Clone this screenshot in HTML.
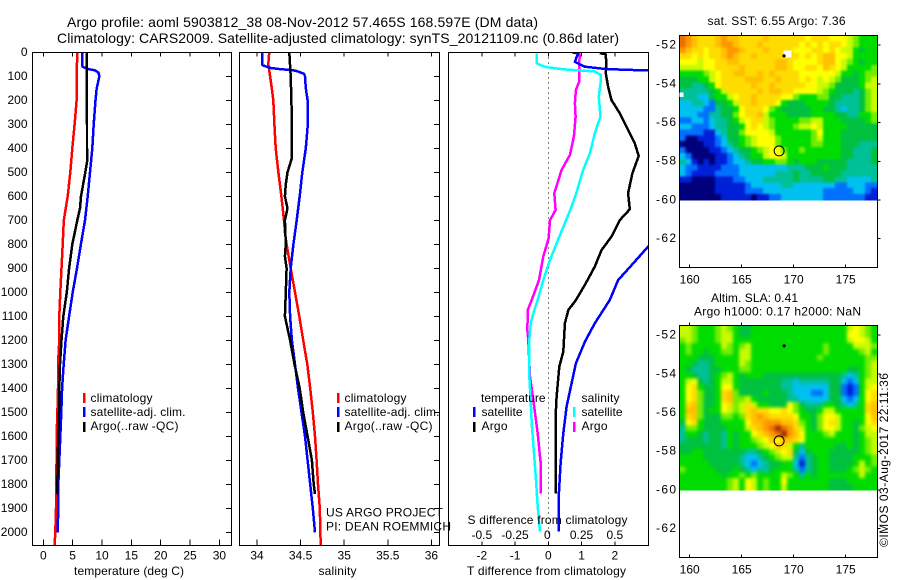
<!DOCTYPE html>
<html>
<head>
<meta charset="utf-8">
<title>Argo profile</title>
<style>
html,body{margin:0;padding:0;background:#fff;}
svg{display:block;}
text{font-family:"Liberation Sans",sans-serif;font-size:12px;fill:#000;}
.title{font-size:14px;}
</style>
</head>
<body>
<svg xmlns="http://www.w3.org/2000/svg" width="900" height="580" viewBox="0 0 900 580">
<defs>
<clipPath id="clip-temp"><rect x="32.5" y="52" width="198.5" height="493"/></clipPath>
<clipPath id="clip-sal"><rect x="239.5" y="52" width="200" height="493"/></clipPath>
<clipPath id="clip-diff"><rect x="448.5" y="52" width="200" height="493"/></clipPath>
<clipPath id="clip-sst"><rect x="679.5" y="35.5" width="198" height="165"/></clipPath>
<clipPath id="clip-sla"><rect x="679.5" y="325.5" width="198" height="165"/></clipPath>
<filter id="smooth-sst" filterUnits="userSpaceOnUse" x="660" y="20" width="240" height="200" color-interpolation-filters="sRGB">
<feGaussianBlur stdDeviation="1.1"/>
<feComponentTransfer><feFuncA type="linear" slope="1000"/></feComponentTransfer>
</filter>
<filter id="smooth-sla" filterUnits="userSpaceOnUse" x="660" y="310" width="240" height="200" color-interpolation-filters="sRGB">
<feGaussianBlur stdDeviation="1.7"/>
<feComponentTransfer><feFuncA type="linear" slope="1000"/></feComponentTransfer>
</filter>
</defs>
<g id="maps"></g>
<g id="panels"></g>
<g id="labels"></g>

<text class="title" x="67" y="27" textLength="471" lengthAdjust="spacing">Argo profile: aoml 5903812_38 08-Nov-2012 57.465S 168.597E (DM data)</text>
<text class="title" x="57" y="43" textLength="562" lengthAdjust="spacing">Climatology: CARS2009. Satellite-adjusted climatology: synTS_20121109.nc (0.86d later)</text>

<text x="74" y="575" textLength="110" lengthAdjust="spacing">temperature (deg C)</text>
<text x="318.5" y="575" textLength="38" lengthAdjust="spacing">salinity</text>
<text x="467" y="575" textLength="159" lengthAdjust="spacing">T difference from climatology</text>
<text x="467.5" y="524" textLength="160" lengthAdjust="spacing">S difference from climatology</text>

<rect x="83" y="393" width="2.5" height="10" fill="#ff0000"/>
<rect x="83" y="407" width="2.5" height="10" fill="#0000ff"/>
<rect x="83" y="422" width="2.5" height="10" fill="#000000"/>
<text x="90.5" y="402" textLength="62" lengthAdjust="spacing">climatology</text>
<text x="90.5" y="416" textLength="95" lengthAdjust="spacing">satellite-adj. clim.</text>
<text x="90.5" y="430" textLength="88" lengthAdjust="spacing">Argo(..raw -QC)</text>

<rect x="337" y="393" width="2.5" height="10" fill="#ff0000"/>
<rect x="337" y="407" width="2.5" height="10" fill="#0000ff"/>
<rect x="337" y="422" width="2.5" height="10" fill="#000000"/>
<text x="344.5" y="402" textLength="62" lengthAdjust="spacing">climatology</text>
<text x="344.5" y="416" textLength="95" lengthAdjust="spacing">satellite-adj. clim.</text>
<text x="344.5" y="430" textLength="88" lengthAdjust="spacing">Argo(..raw -QC)</text>

<text x="326" y="516.5" textLength="117" lengthAdjust="spacing">US ARGO PROJECT</text>
<text x="326" y="530.5" textLength="125" lengthAdjust="spacing">PI: DEAN ROEMMICH</text>

<text x="481" y="402" textLength="64.5" lengthAdjust="spacing">temperature</text>
<rect x="473" y="407" width="2.5" height="10" fill="#0000ff"/>
<rect x="473" y="422" width="2.5" height="10" fill="#000000"/>
<text x="481.5" y="416" textLength="41" lengthAdjust="spacing">satellite</text>
<text x="481.5" y="430" textLength="26" lengthAdjust="spacing">Argo</text>
<text x="581.5" y="402" textLength="38" lengthAdjust="spacing">salinity</text>
<rect x="573" y="407" width="2.5" height="10" fill="#00ffff"/>
<rect x="573" y="422" width="2.5" height="10" fill="#ff00ff"/>
<text x="581.5" y="416" textLength="41" lengthAdjust="spacing">satellite</text>
<text x="581.5" y="430" textLength="26" lengthAdjust="spacing">Argo</text>

<text x="707.5" y="25" textLength="138" lengthAdjust="spacing">sat. SST: 6.55 Argo: 7.36</text>
<text x="711" y="302" textLength="87" lengthAdjust="spacing">Altim. SLA: 0.41</text>
<text x="694" y="315.5" textLength="167" lengthAdjust="spacing">Argo h1000: 0.17 h2000: NaN</text>
<text transform="translate(888,547) rotate(-90)" x="0" y="0" textLength="174" lengthAdjust="spacing">©IMOS 03-Aug-2017 22:11:36</text>

<script>
// ---- axis ticks ----
const depthTicks = [0,100,200,300,400,500,600,700,800,900,1000,1100,1200,1300,1400,1500,1600,1700,1800,1900,2000];
const tempTicks = [0,5,10,15,20,25,30];
const salTicks = [34,34.5,35,35.5,36];
const diffTTicks = [-2,-1,0,1,2];
const diffSTicks = [-0.5,-0.25,0,0.25,0.5];
const lonTicks = [160,165,170,175];
const latTicks = [-52,-54,-56,-58,-60,-62];

// ---- temperature panel ----
const tempClimDepth = [0,100,200,300,400,500,600,700,800,900,1000,1100,1200,1300,1400,1500,1600,1700,1800,1900,2000,2054];
const tempClimValue = [5.8,5.68,5.68,5.34,4.94,4.6,4.15,3.5,3.3,3.1,2.9,2.73,2.73,2.5,2.5,2.4,2.27,2.27,2.16,2.16,2.05,1.93];
const tempSatDepth = [0,50,60,70,75,85,100,150,200,300,400,500,600,700,800,900,1000,1100,1200,1300,1400,1500,1600,1700,1800,1900,2000];
const tempSatValue = [6.6,6.6,6.7,7.67,8.8,9.4,9.55,9.1,8.9,8.58,8.35,7.95,7.56,7.1,6.4,5.74,5.0,4.4,3.8,3.47,3.2,3.07,2.9,2.73,2.56,2.56,2.44];
const tempArgoDepth = [0,100,200,300,400,450,500,600,650,700,800,900,1000,1100,1200,1300,1400,1500,1600,1700,1840];
const tempArgoValue = [7.4,7.4,7.4,7.45,7.45,7.5,7.16,6.42,6.25,5.8,4.94,4.4,4.0,3.4,3.1,2.84,2.73,2.67,2.56,2.44,2.4];

// ---- salinity panel ----
const salClimDepth = [0,50,100,150,200,300,400,500,600,700,750,800,900,1000,1100,1200,1300,1400,1500,1600,1700,1800,1900,2054];
const salClimValue = [34.14,34.13,34.15,34.17,34.187,34.2,34.214,34.245,34.28,34.31,34.32,34.34,34.386,34.436,34.485,34.53,34.577,34.61,34.64,34.665,34.684,34.7,34.72,34.73];
const salSatDepth = [0,50,55,65,70,75,80,90,100,150,200,250,300,400,500,600,700,800,900,1000,1100,1200,1300,1400,1500,1600,1700,1800,1900,2000];
const salSatValue = [34.057,34.057,34.07,34.15,34.26,34.42,34.47,34.54,34.55,34.56,34.58,34.585,34.583,34.56,34.52,34.49,34.455,34.417,34.386,34.37,34.38,34.4,34.436,34.47,34.51,34.55,34.58,34.61,34.64,34.665];
const salArgoDepth = [0,100,200,300,400,440,500,550,600,650,700,800,850,900,1000,1100,1200,1300,1400,1500,1600,1700,1800,1840];
const salArgoValue = [34.37,34.386,34.394,34.4,34.4,34.4,34.35,34.33,34.32,34.35,34.32,34.33,34.32,34.34,34.33,34.32,34.38,34.43,34.49,34.53,34.58,34.63,34.65,34.665];

// ---- difference panel ----
const diffTSatDepth = [0,5,20,40,50,60,70,76,100,400,800,810,880,949,1032,1129,1206,1296,1379,1476,1588,1712,1838,1997];
const diffTSatValue = [0.72,0.9,0.85,0.8,0.95,1.1,1.75,3.0,3.87,3.4,3.1,3.0,2.55,2.1,1.85,1.4,1.1,0.83,0.7,0.55,0.45,0.37,0.32,0.31];
const diffTArgoDepth = [4,7,46,88,143,199,254,324,379,432,504,587,654,699,768,824,893,969,1032,1074,1129,1247,1310,1435,1518,1838];
const diffTArgoValue = [1.55,1.72,1.75,1.73,1.8,1.9,2.15,2.4,2.6,2.72,2.53,2.4,2.45,2.15,1.9,1.6,1.4,1.1,0.83,0.6,0.5,0.45,0.33,0.25,0.22,0.23];
const diffSSatDepth = [4,46,53,62,71,76,80,94,122,185,268,337,421,490,574,643,712,796,865,949,1032,1074,1129,1213,1351,1449,1546,1671,1782,1893,1997];
const diffSSatValue = [-0.0875,-0.0875,-0.0625,-0.0125,0.1125,0.2375,0.35,0.395,0.395,0.38,0.3925,0.35,0.3125,0.2625,0.2175,0.175,0.125,0.0625,0.0125,-0.0375,-0.08,-0.105,-0.1325,-0.145,-0.1425,-0.1325,-0.125,-0.1075,-0.0925,-0.08,-0.0625];
const diffSArgoDepth = [4,46,88,122,157,212,268,351,428,490,587,657,699,775,851,949,1032,1074,1157,1199,1351,1449,1588,1712,1838];
const diffSArgoValue = [0.2375,0.2325,0.2325,0.2325,0.2075,0.2,0.205,0.1925,0.1625,0.1,0.045,0.055,0.0125,0.0025,-0.0375,-0.07,-0.125,-0.155,-0.1575,-0.15,-0.1375,-0.1125,-0.08,-0.0575,-0.055];

// ---- map markers (degrees) ----
const profileLon = 168.597;
const profileLat = -57.465;
const nearbyLon = 169.07;
const nearbyLat = -52.55;

// ---- missing-data patches on the SST map (degrees) ----
const noDataWest = [169.0,159.0];
const noDataEast = [169.8,159.4];
const noDataNorth = [-52.28,-54.45];
const noDataSouth = [-52.64,-54.67];

// ---- map colour levels, lowest to highest ----
const levelKeys = "0123456789abcde";
const levelColors = ["#00007c","#0020d8","#0070ff","#00c0f0","#00c098","#00c040","#00dc00","#70ee00","#c8fa00","#ffff00","#ffdc00","#ffc000","#ff9800","#e87000","#a02800"];

// ---- satellite SST grid: level per cell, north to south, west to east ----
const sstGrid = [
"dcbaa abcbb aaaab aaaaa a9aaa 99987 666",
"dcbaa abccb aaaba aaaaa 9a9a9 aa987 666",
"cbaa9 aabcc baaab aaaa9 99aa9 a9886 566",
"aa9a9 aabcb aabaa aaaaa 9a9ab b9986 666",
"99989 9aabb aaaaa abba9 999ab b9876 566",
"88889 9aaaa baaaa abba9 9aa9b a9866 667",
"66667 89aab baaba baaaa 99999 98665 677",
"55566 89aaa abbba abaaa 9a989 87555 678",
"55445 69aaa aabaa baaaa a9988 75555 688",
"44444 568aa aaaba bbaa9 99987 65554 578",
"44433 56689 aabaa aa997 66677 55444 578",
"33443 25568 aabaa a9655 56666 54444 578",
"33332 24556 9aaa9 76555 55665 54344 578",
"33322 44557 9aab8 66655 55666 65544 667",
"22332 34456 89aa8 76666 77886 66555 567",
"33222 34455 69a98 76667 88986 66655 555",
"22221 13455 79999 86666 66796 66555 555",
"20011 12355 67899 97666 66786 66555 555",
"00001 12345 67899 97666 66776 66555 444",
"20000 11234 55678 99766 76666 66554 445",
"32000 01123 45668 99866 66666 66554 445",
"43101 01123 34556 67765 66655 55544 445",
"32211 11222 33333 33344 45556 55544 444",
"32111 12222 33333 34445 44555 55444 444",
"11000 01112 23334 44445 44445 54433 334",
"00000 01111 12333 33443 33333 32233 322",
"00000 01111 12223 33333 33332 22223 321",
"00000 00111 11011 22333 33332 22222 211"
];

// ---- altimeter SLA grid ----
const slaGrid = [
"88766 67876 55666 66666 66666 66689 876",
"88766 67886 55666 66666 66666 66699 876",
"78766 67886 66666 66666 66666 66689 986",
"67666 66876 78666 66666 66667 66668 887",
"67665 66776 88666 66666 66667 66666 786",
"66655 56666 88666 66666 66676 66666 677",
"66544 56666 87666 66666 66666 66666 678",
"65444 55666 77666 66666 66666 66655 678",
"66544 56786 56665 55555 55555 55434 678",
"68954 56886 55555 55443 44444 55323 688",
"69a65 56996 55555 55443 33333 55212 689",
"69a75 56ab7 55556 55543 33223 55212 69a",
"69a75 56ab7 78655 55544 33333 55323 69a",
"6ab75 569a7 8a866 55597 54446 65434 6ab",
"6bb75 66987 8abaa 99a97 65568 86666 6ab",
"6ab75 55776 7abcb aaaa9 66579 98666 69b",
"59a65 55666 69bbc ccbba 76579 a8665 69a",
"47765 55566 68abc dedca 86579 98665 789",
"46654 55465 669ab cdecb 96667 86665 688",
"45554 55465 66789 b9bba 96666 66665 678",
"55555 55465 66678 9ba86 46666 65565 678",
"55665 55555 54456 789a5 35666 55555 678",
"66665 55555 43345 67884 24566 55556 667",
"66666 55555 43234 55663 14566 55556 867",
"76666 65556 54344 56664 24566 55567 876",
"66666 66566 76766 66876 46566 66666 866",
"66666 66678 69867 66966 66666 55566 666",
"66666 66678 69867 66866 66666 55556 666"
];

// ---- axis functions ----
const NS = "http://www.w3.org/2000/svg";
const yDepth = d => 52.3 + d * 0.24;
const xTemp = v => 43.3 + v * 5.87;
const xSal = v => 257 + (v - 34) * 87.2;
const xDiffT = v => 548.3 + v * 33.25;
const xDiffS = v => 548.3 + v * 4 * 33.25;
const xLon = v => 689.7 + (v - 160) * 10.4;
const yLat = (v, top) => top + (-51.5 - v) * 19.35;

const panels = document.getElementById("panels");
const maps = document.getElementById("maps");
const labels = document.getElementById("labels");

function mk(tag, parent, attrs) {
  const el = document.createElementNS(NS, tag);
  for (const k in attrs) el.setAttribute(k, attrs[k]);
  parent.appendChild(el);
  return el;
}

function tick(parent, x1, y1, x2, y2, name) {
  const el = mk("line", parent, {x1, y1, x2, y2, stroke: "#000", "stroke-width": 1, "shape-rendering": "crispEdges"});
  
  
}

function label(x, y, str, anchor, name, fit) {
  const el = mk("text", labels, {x, y, "text-anchor": anchor});
  if (fit) {
    el.setAttribute("textLength", fit);
    el.setAttribute("lengthAdjust", "spacing");
  }
  el.textContent = str;
  
  
}

function series(depths, values, xf, color, clip, name, width) {
  const pts = depths.map((d, i) => xf(values[i]).toFixed(1) + "," + yDepth(d).toFixed(1)).join(" ");
  const el = mk("polyline", panels, {points: pts, fill: "none", stroke: color, "stroke-width": width || 2.5, "clip-path": "url(#" + clip + ")", "shape-rendering": "crispEdges", "stroke-linejoin": "round"});
  
  
}

function frame(parent, x1, y1, x2, y2, name) {
  const el = mk("rect", parent, {x: x1, y: y1, width: x2 - x1, height: y2 - y1, fill: "none", stroke: "#000", "stroke-width": 1, "shape-rendering": "crispEdges"});
  
  
}

// ---- profile panels ----
const pTop = 52.5, pBot = 545.5;

series(tempClimDepth, tempClimValue, xTemp, "#ff0000", "clip-temp", "temperature-climatology-line");
series(tempSatDepth, tempSatValue, xTemp, "#0000ff", "clip-temp", "temperature-satellite-line");
series(tempArgoDepth, tempArgoValue, xTemp, "#000000", "clip-temp", "temperature-argo-line");

series(salClimDepth, salClimValue, xSal, "#ff0000", "clip-sal", "salinity-climatology-line");
series(salSatDepth, salSatValue, xSal, "#0000ff", "clip-sal", "salinity-satellite-line");
series(salArgoDepth, salArgoValue, xSal, "#000000", "clip-sal", "salinity-argo-line");

const zeroLine = mk("line", panels, {x1: xDiffT(0), y1: pTop, x2: xDiffT(0), y2: pBot, stroke: "#000", "stroke-width": 1, "stroke-dasharray": "1 4", "shape-rendering": "crispEdges"});



series(diffSArgoDepth, diffSArgoValue, xDiffS, "#ff00ff", "clip-diff", "salinity-argo-difference-line");
series(diffTArgoDepth, diffTArgoValue, xDiffT, "#000000", "clip-diff", "temperature-argo-difference-line");
series(diffSSatDepth, diffSSatValue, xDiffS, "#00ffff", "clip-diff", "salinity-satellite-difference-line");
series(diffTSatDepth, diffTSatValue, xDiffT, "#0000ff", "clip-diff", "temperature-satellite-difference-line");

frame(panels, 32.5, pTop, 231.5, pBot, "temperature-panel-frame");
frame(panels, 239.5, pTop, 439.5, pBot, "salinity-panel-frame");
frame(panels, 448.5, pTop, 648.5, pBot, "difference-panel-frame");

depthTicks.forEach(d => {
  const y = yDepth(d);
  if (d > 0) {
    tick(panels, 226, y, 231, y, "temperature-depth-tick");
    tick(panels, 434, y, 439, y, "salinity-depth-tick");
  }
  label(27.5, y + 3.6, String(d), "end", "depth-tick-label");
});

tempTicks.forEach(v => {
  const x = xTemp(v);
  tick(panels, x, pTop, x, pTop + 4, "temperature-top-tick");
  tick(panels, x, pBot - 6, x, pBot, "temperature-bottom-tick");
  label(x, 559.5, String(v), "middle", "temperature-tick-label");
});

salTicks.forEach(v => {
  const x = xSal(v);
  tick(panels, x, pTop, x, pTop + 4, "salinity-top-tick");
  tick(panels, x, pBot - 6, x, pBot, "salinity-bottom-tick");
  label(x, 559.5, String(v), "middle", "salinity-tick-label");
});

diffTTicks.forEach(v => {
  const x = xDiffT(v);
  tick(panels, x, pTop, x, pTop + 4, "difference-top-tick");
  tick(panels, x, pBot - 4, x, pBot, "difference-bottom-tick");
  label(x, 559.5, String(v), "middle", "t-difference-tick-label");
});

diffSTicks.forEach(v => {
  label(xDiffS(v) - (v === 0 ? 1 : 0), 539, String(v), "middle", "s-difference-tick-label");
});

// ---- maps ----
function drawMap(grid, top, name, clipId, filterId) {
  const rows = grid.map(r => r.replace(/ /g, ""));
  const lonW = 159, lonE = 178, latN = -51.5, latS = -60;
  const clipGroup = mk("g", maps, {"clip-path": "url(#" + clipId + ")"});
  
  
  const cells = mk("g", clipGroup, {filter: "url(#" + filterId + ")"});
  
  
  rows.forEach((row, j) => {
    for (let i = 0; i < row.length; i++) {
      const x0 = xLon(lonW + (lonE - lonW) * i / row.length);
      const x1 = xLon(lonW + (lonE - lonW) * (i + 1) / row.length);
      const y0 = yLat(latN + (latS - latN) * j / rows.length, top);
      const y1 = yLat(latN + (latS - latN) * (j + 1) / rows.length, top);
      const c = mk("rect", cells, {x: x0.toFixed(2), y: y0.toFixed(2), width: (x1 - x0 + 0.5).toFixed(2), height: (y1 - y0 + 0.5).toFixed(2), fill: levelColors[levelKeys.indexOf(row[i])], "shape-rendering": "crispEdges"});
      
      
    }
  });

  const bottom = yLat(-63.5, top);
  frame(maps, 679.5, top, 877.5, bottom, name + '-frame');

  lonTicks.forEach(v => {
    const x = xLon(v);
    tick(maps, x, top - 3, x, top, name + '-top-tick');
    tick(maps, x, bottom - 3, x, bottom, name + '-bottom-tick');
    label(x, bottom + 16, String(v), "middle", name + '-lon-label');
  });
  latTicks.forEach(v => {
    const y = yLat(v, top);
    tick(maps, 877.5, y, 880.5, y, name + '-right-tick');
    label(656, y + 3.4, String(v), "start", name + '-lat-label', 20);
  });
  return top;
}

drawMap(sstGrid, 35.5, "sst-map", "clip-sst", "smooth-sst");
noDataWest.forEach((w, i) => {
  const x0 = xLon(w), x1 = xLon(noDataEast[i]);
  const y0 = yLat(noDataNorth[i], 35.5), y1 = yLat(noDataSouth[i], 35.5);
  const p = mk("rect", maps, {x: x0, y: y0, width: x1 - x0, height: y1 - y0, fill: "#fff", "shape-rendering": "crispEdges"});
  
  
});
drawMap(slaGrid, 325.5, "sla-map", "clip-sla", "smooth-sla");

[[35.5, "sst-map"], [325.5, "sla-map"]].forEach(([top, name]) => {
  const dot = mk("circle", maps, {cx: xLon(nearbyLon), cy: yLat(nearbyLat, top), r: 1.6, fill: "#000"});
  
  

  const ring = mk("circle", maps, {cx: xLon(profileLon), cy: yLat(profileLat, top), r: 5, fill: "none", stroke: "#000", "stroke-width": 1});
  
  
});
</script>
</svg>
</body>
</html>
